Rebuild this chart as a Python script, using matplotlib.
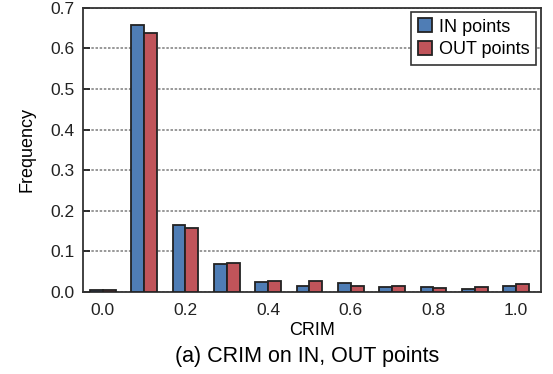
import matplotlib
matplotlib.use("Agg")
import matplotlib.pyplot as plt
import numpy as np

plt.rcParams['font.family'] = ['Liberation Sans', 'DejaVu Sans']

bins = [0.0, 0.1, 0.2, 0.3, 0.4, 0.5, 0.6, 0.7, 0.8, 0.9, 1.0]
in_points = [0.006, 0.658, 0.165, 0.069, 0.024, 0.015, 0.022, 0.013, 0.013, 0.007, 0.016]
out_points = [0.006, 0.639, 0.159, 0.072, 0.028, 0.028, 0.015, 0.016, 0.010, 0.013, 0.021]
xticks = [0.0, 0.2, 0.4, 0.6, 0.8, 1.0]
yticks = [0.0, 0.1, 0.2, 0.3, 0.4, 0.5, 0.6, 0.7]

fig = plt.figure(figsize=(5.53, 3.74), dpi=100)
ax = fig.add_axes([0.150, 0.219, 0.828, 0.760])

w = 0.031
x = np.array(bins)
ax.bar(x - w, in_points, width=w, align='edge', color='#4f7db5',
       edgecolor='#222222', linewidth=1.3, label='IN points', zorder=3)
ax.bar(x, out_points, width=w, align='edge', color='#c0545a',
       edgecolor='#222222', linewidth=1.3, label='OUT points', zorder=3)

ax.set_xlim(-0.048, 1.06)
ax.set_ylim(0, 0.7)
ax.set_xticks(xticks)
ax.set_xticklabels([f"{t:.1f}" for t in xticks])
ax.set_yticks(yticks)
ax.set_yticklabels([f"{t:.1f}" for t in yticks])
ax.yaxis.grid(True, linestyle=(0, (1.5, 1)), color='#888888', linewidth=1.2, zorder=0)
ax.tick_params(axis='y', direction='in', length=5, width=1.3, labelsize=12.5,
               colors='#222222', pad=6)
ax.tick_params(axis='x', length=0, labelsize=12.5, colors='#222222', pad=8)
for s in ax.spines.values():
    s.set_color('#333333')
    s.set_linewidth(1.3)

ax.set_ylabel('Frequency', fontsize=13, labelpad=11)
ax.set_xlabel('CRIM', fontsize=13, labelpad=3)
fig.text(0.555, 0.032, '(a) CRIM on IN, OUT points', fontsize=15.5,
         ha='center', va='baseline')

leg = ax.legend(loc='upper right', fontsize=13, handlelength=0.8, handleheight=0.8,
                handletextpad=0.4, borderpad=0.35, labelspacing=0.3, fancybox=False,
                framealpha=1, edgecolor='#333333', bbox_to_anchor=(0.99, 0.985),
                borderaxespad=0.0)
leg.get_frame().set_linewidth(1.2)

fig.savefig('out.png', dpi=100)
